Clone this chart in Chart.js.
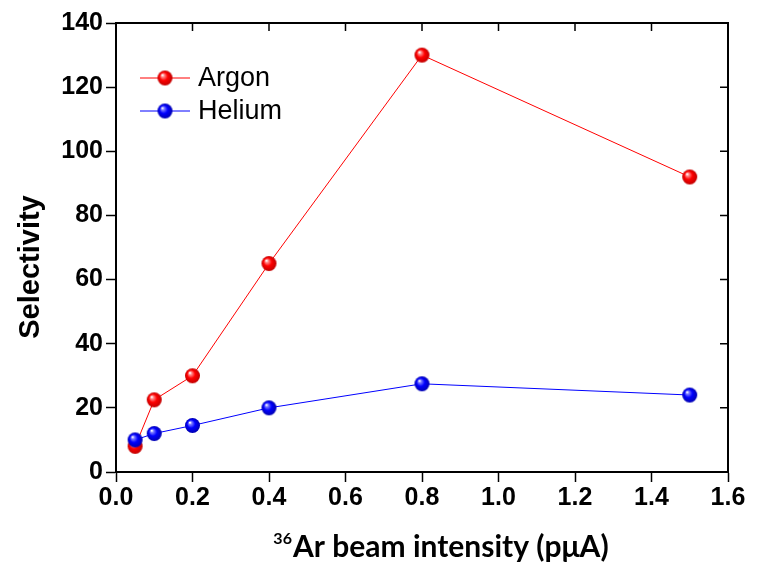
<!DOCTYPE html>
<html>
<head>
<meta charset="utf-8">
<script src="https://cdn.jsdelivr.net/npm/chart.js@4.4.1/dist/chart.umd.min.js"></script>
<style>
html,body{margin:0;padding:0;background:#fff;}
#wrap{width:760px;height:563px;position:relative;}
</style>
</head>
<body>
<div id="wrap"><canvas id="c" width="760" height="563"></canvas></div>
<script>
const intensities = [0.05, 0.1, 0.2, 0.4, 0.8, 1.5];
const argonValues = [8, 22.5, 30, 65, 130, 92];
const heliumValues = [10, 12, 14.5, 20, 27.5, 24];
const seriesNames = ['Argon', 'Helium'];
const xTicks = [0.0, 0.2, 0.4, 0.6, 0.8, 1.0, 1.2, 1.4, 1.6];
const yTicks = [0, 20, 40, 60, 80, 100, 120, 140];
const yTitle = 'Selectivity';
const xTitleSup = '36';
const xTitleMain = 'Ar beam intensity (pμA)';

function sphere(base, dark, light, r) {
  const s = r * 2 + 2;
  const cv = document.createElement('canvas');
  cv.width = s; cv.height = s;
  const g = cv.getContext('2d');
  const c = s / 2;
  const grad = g.createRadialGradient(c - r * 0.35, c - r * 0.4, 0.5, c, c, r);
  grad.addColorStop(0, '#ffffff');
  grad.addColorStop(0.15, light);
  grad.addColorStop(0.5, base);
  grad.addColorStop(1, dark);
  g.fillStyle = grad;
  g.beginPath(); g.arc(c, c, r, 0, Math.PI * 2); g.fill();
  return cv;
}
const redBall = sphere('#ff0000', '#c00000', '#ff9090', 7.5);
const blueBall = sphere('#0000ff', '#0000b0', '#8080ff', 7.5);

const LEFT = 116, RIGHT = 728, TOP = 23, BOTTOM = 472;
const TICKFONT = { family: '"Liberation Sans", Arial, sans-serif', size: 25, weight: 'bold' };

const framePlugin = {
  id: 'frame',
  afterDraw(chart) {
    const ctx = chart.ctx;
    const a = chart.chartArea;
    const xs = chart.scales.x, ys = chart.scales.y;
    ctx.save();
    ctx.strokeStyle = '#000';
    ctx.lineWidth = 2;
    ctx.beginPath();
    ctx.moveTo(a.left, a.top); ctx.lineTo(a.right, a.top); ctx.lineTo(a.right, a.bottom);
    ctx.stroke();
    ctx.lineWidth = 1.5;
    ctx.beginPath();
    xTicks.forEach(v => { const px = xs.getPixelForValue(v); ctx.moveTo(px, a.top); ctx.lineTo(px, a.top + 8); });
    yTicks.forEach(v => { const py = ys.getPixelForValue(v); ctx.moveTo(a.right, py); ctx.lineTo(a.right - 8, py); });
    ctx.stroke();
    // y title
    ctx.fillStyle = '#000';
    ctx.save();
    ctx.translate(31, 267);
    ctx.rotate(-Math.PI / 2);
    ctx.font = 'bold 29px "Liberation Sans", Arial, sans-serif';
    ctx.textAlign = 'center';
    ctx.textBaseline = 'middle';
    ctx.fillText(yTitle, 0, 0);
    ctx.restore();
    // x title with superscript
    ctx.textBaseline = 'alphabetic';
    ctx.textAlign = 'left';
    ctx.font = 'bold 16px Lato, "Open Sans", sans-serif';
    const supW = ctx.measureText(xTitleSup).width;
    ctx.font = 'bold 30px Lato, "Open Sans", sans-serif';
    const mainW = ctx.measureText(xTitleMain).width;
    const total = supW + 1 + mainW;
    const cx = 441;
    let x0 = cx - total / 2;
    ctx.font = 'bold 16px Lato, "Open Sans", sans-serif';
    ctx.fillText(xTitleSup, x0, 544);
    ctx.font = 'bold 30px Lato, "Open Sans", sans-serif';
    ctx.fillText(xTitleMain, x0 + supW + 1, 557);
    // legend
    const items = [[seriesNames[0], '#ff0000', redBall, 78], [seriesNames[1], '#0000ff', blueBall, 111]];
    ctx.font = '27px "Liberation Sans", Arial, sans-serif';
    ctx.textBaseline = 'middle';
    items.forEach(([name, col, img, y]) => {
      ctx.strokeStyle = col; ctx.lineWidth = 1;
      ctx.beginPath(); ctx.moveTo(140, y); ctx.lineTo(190, y); ctx.stroke();
      ctx.drawImage(img, 165 - img.width / 2, y - img.height / 2);
      ctx.fillStyle = '#000';
      ctx.fillText(name, 198, y + 1);
    });
    ctx.restore();
  }
};

new Chart(document.getElementById('c'), {
  type: 'line',
  data: {
    datasets: [
      { label: seriesNames[1], data: intensities.map((x, i) => ({ x, y: heliumValues[i] })), borderColor: '#0000ff', borderWidth: 1, pointStyle: blueBall, pointRadius: 8, order: 0 },
      { label: seriesNames[0], data: intensities.map((x, i) => ({ x, y: argonValues[i] })), borderColor: '#ff0000', borderWidth: 1, pointStyle: redBall, pointRadius: 8, order: 1 }
    ]
  },
  options: {
    responsive: false,
    animation: false,
    layout: { padding: { left: 0, right: 760 - RIGHT, top: TOP, bottom: 0 } },
    plugins: { legend: { display: false }, tooltip: { enabled: false }, title: { display: false } },
    scales: {
      x: {
        type: 'linear', min: 0, max: 1.6,
        afterBuildTicks: s => { s.ticks = xTicks.map(v => ({ value: v })); },
        afterFit: s => { s.height = 563 - BOTTOM; },
        ticks: { color: '#000', font: TICKFONT, padding: 1, maxRotation: 0, callback: v => v.toFixed(1) },
        grid: { drawOnChartArea: false, tickLength: 10, tickColor: '#000', tickWidth: 1.5 },
        border: { color: '#000', width: 2 },
        title: { display: false }
      },
      y: {
        type: 'linear', min: 0, max: 140,
        afterBuildTicks: s => { s.ticks = yTicks.map(v => ({ value: v })); },
        afterFit: s => { s.width = LEFT; },
        ticks: { color: '#000', font: TICKFONT, padding: 3 },
        grid: { drawOnChartArea: false, tickLength: 10, tickColor: '#000', tickWidth: 1.5 },
        border: { color: '#000', width: 2 },
        title: { display: false }
      }
    }
  },
  plugins: [framePlugin]
});
</script>
</body>
</html>
